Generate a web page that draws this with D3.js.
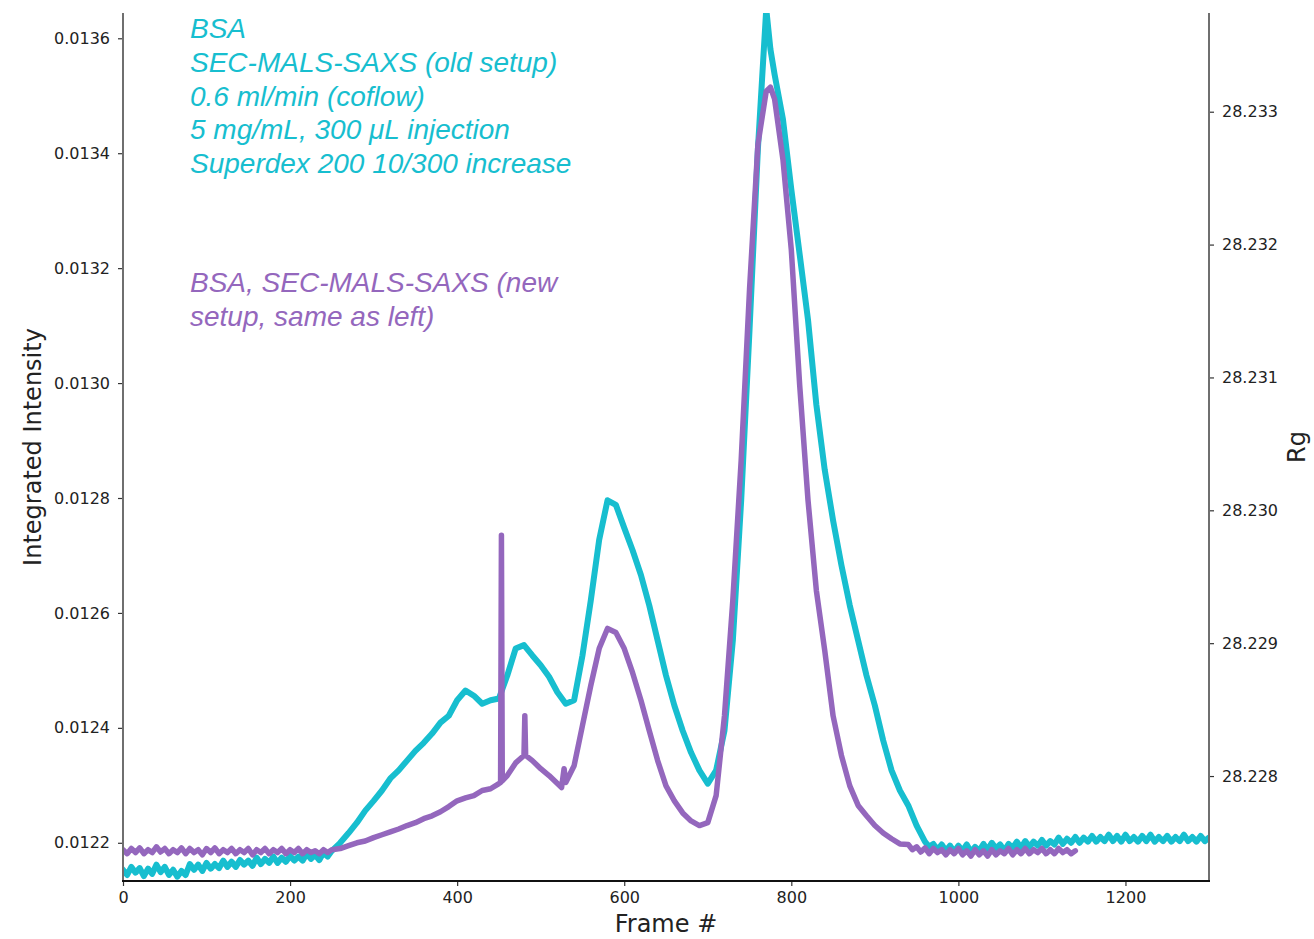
<!DOCTYPE html>
<html>
<head>
<meta charset="utf-8">
<script src="https://cdn.jsdelivr.net/npm/d3@7"></script>
<style>
  html, body { margin: 0; padding: 0; background: #fff; }
  svg { display: block; }
  .tick text { font-family: "DejaVu Sans", sans-serif; font-size: 16px; fill: #222; }
  .axlabel { font-family: "DejaVu Sans", sans-serif; font-size: 24px; fill: #222; }
  .note { font-family: "Liberation Sans", Arial, sans-serif; font-style: italic; font-size: 28px; }
</style>
</head>
<body>
<svg id="chart" width="1314" height="939"></svg>
<script>
// ---------------- DATA ----------------
// Old setup (cyan) — frame numbers and integrated intensity
const oldFrames = [
  0,5,10,15,20,25,30,35,40,45,50,55,60,65,70,75,80,85,90,95,100,105,110,115,120,125,130,135,140,145,150,155,160,165,170,175,180,185,190,195,200,205,210,215,220,225,230,235,240,245,250,
  260,270,280,290,300,310,320,330,340,350,360,370,380,390,400,410,420,430,440,450,460,470,480,490,500,510,520,530,540,550,560,570,580,590,600,610,620,630,640,650,660,670,680,690,700,710,720,730,740,750,760,765,770,775,780,790,800,810,820,830,840,850,860,870,880,890,900,910,920,930,940,950,
  960,965,970,975,980,985,990,995,1000,1005,1010,1015,1020,1025,1030,1035,1040,1045,1050,1055,1060,1065,1070,1075,1080,1085,1090,1095,1100,1105,1110,1115,1120,1125,1130,1135,1140,1145,1150,1155,1160,1165,1170,1175,1180,1185,1190,1195,1200,1205,1210,1215,1220,1225,1230,1235,1240,1245,1250,1255,1260,1265,1270,1275,1280,1285,1290,1295,1300];
const oldIntensity = [
  0.012153,0.012144,0.012158,0.012148,0.012156,0.012142,0.012155,0.012146,0.012162,0.012149,0.012158,0.012144,0.012153,0.012141,0.012151,0.012144,0.012163,0.012153,0.012162,0.012151,0.012165,0.012155,0.012163,0.012156,0.012169,0.012158,0.012167,0.012158,0.012170,0.012162,0.012169,0.012160,0.012174,0.012163,0.012172,0.012165,0.012176,0.012165,0.012174,0.012167,0.012177,0.012169,0.012176,0.012169,0.012181,0.012172,0.012179,0.012170,0.012183,0.012176,0.012186,
  0.012200,0.012217,0.012235,0.012256,0.012273,0.012291,0.012312,0.012326,0.012343,0.012360,0.012374,0.012390,0.012409,0.012421,0.012448,0.012465,0.012456,0.012442,0.012448,0.012451,0.012491,0.012538,0.012544,0.012526,0.012509,0.012489,0.012462,0.012442,0.012448,0.012526,0.012622,0.012727,0.012796,0.012788,0.012748,0.012709,0.012666,0.012613,0.012552,0.012491,0.012439,0.012395,0.012357,0.012326,0.012303,0.012326,0.012395,0.012552,0.012796,0.013093,0.013407,0.013529,0.013651,0.013581,0.013537,0.013459,0.013337,0.013224,0.013110,0.012962,0.012849,0.012761,0.012683,0.012613,0.012552,0.012491,0.012439,0.012378,0.012326,0.012291,0.012265,0.012230,
  0.012202,0.012193,0.012198,0.012188,0.012197,0.012186,0.012195,0.012184,0.012195,0.012186,0.012197,0.012184,0.012193,0.012186,0.012198,0.012188,0.012200,0.012190,0.012197,0.012186,0.012198,0.012191,0.012202,0.012191,0.012203,0.012193,0.012202,0.012195,0.012205,0.012195,0.012203,0.012197,0.012209,0.012198,0.012207,0.012200,0.012210,0.012200,0.012209,0.012202,0.012212,0.012202,0.012210,0.012203,0.012214,0.012203,0.012212,0.012202,0.012214,0.012203,0.012210,0.012202,0.012212,0.012203,0.012214,0.012202,0.012210,0.012203,0.012212,0.012202,0.012210,0.012203,0.012214,0.012203,0.012210,0.012202,0.012212,0.012203,0.012209];

// New setup (purple)
const newFrames = [
  0,5,10,15,20,25,30,35,40,45,50,55,60,65,70,75,80,85,90,95,100,105,110,115,120,125,130,135,140,145,150,155,160,165,170,175,180,185,190,195,200,205,210,215,220,225,230,235,240,245,250,
  260,270,280,290,300,310,320,330,340,350,360,370,380,390,400,410,420,430,440,450,452,453,454,460,470,480,481,482,490,500,510,520,525,528,530,540,550,560,570,580,590,600,610,620,630,640,650,660,670,680,690,700,710,720,730,740,750,760,770,775,780,790,800,810,820,830,840,850,860,870,880,890,900,910,920,930,
  940,945,950,955,960,965,970,975,980,985,990,995,1000,1005,1010,1015,1020,1025,1030,1035,1040,1045,1050,1055,1060,1065,1070,1075,1080,1085,1090,1095,1100,1105,1110,1115,1120,1125,1130,1135,1140];
const newIntensity = [
  0.012188,0.012181,0.012190,0.012183,0.012191,0.012181,0.012188,0.012183,0.012193,0.012184,0.012190,0.012181,0.012188,0.012183,0.012191,0.012181,0.012190,0.012183,0.012188,0.012179,0.012190,0.012183,0.012191,0.012181,0.012188,0.012183,0.012190,0.012181,0.012188,0.012183,0.012190,0.012179,0.012188,0.012183,0.012190,0.012181,0.012188,0.012183,0.012190,0.012181,0.012188,0.012183,0.012190,0.012181,0.012188,0.012183,0.012186,0.012181,0.012188,0.012183,0.012188,
  0.012190,0.012195,0.012200,0.012203,0.012209,0.012214,0.012219,0.012224,0.012230,0.012235,0.012242,0.012247,0.012254,0.012263,0.012273,0.012278,0.012282,0.012291,0.012294,0.012303,0.012305,0.012735,0.012308,0.012317,0.012339,0.012352,0.012421,0.012352,0.012343,0.012329,0.012317,0.012303,0.012296,0.012329,0.012305,0.012334,0.012404,0.012474,0.012538,0.012573,0.012566,0.012538,0.012496,0.012448,0.012395,0.012343,0.012299,0.012273,0.012252,0.012238,0.012230,0.012235,0.012282,0.012421,0.012622,0.012866,0.013163,0.013415,0.013508,0.013515,0.013494,0.013389,0.013232,0.012997,0.012796,0.012639,0.012535,0.012421,0.012352,0.012299,0.012265,0.012247,0.012230,0.012217,0.012207,0.012198,
  0.012197,0.012188,0.012193,0.012184,0.012191,0.012181,0.012190,0.012183,0.012188,0.012179,0.012188,0.012181,0.012190,0.012179,0.012186,0.012177,0.012188,0.012179,0.012186,0.012177,0.012188,0.012179,0.012186,0.012181,0.012190,0.012179,0.012188,0.012181,0.012190,0.012181,0.012188,0.012183,0.012190,0.012181,0.012188,0.012181,0.012190,0.012183,0.012188,0.012181,0.012186];

const xTicks = [0,200,400,600,800,1000,1200];
const leftTicks = [0.0122,0.0124,0.0126,0.0128,0.0130,0.0132,0.0134,0.0136];
const rightTicks = [28.228,28.229,28.230,28.231,28.232,28.233];

const oldNote = ["BSA","SEC-MALS-SAXS (old setup)","0.6 ml/min (coflow)","5 mg/mL, 300 \u03bcL injection","Superdex 200 10/300 increase"];
const newNote = ["BSA, SEC-MALS-SAXS (new","setup, same as left)"];

// ---------------- LAYOUT ----------------
const svg = d3.select("#chart");
const L = 123, R = 1209, T = 13, B = 881;
const CYAN = "#17becf", PURPLE = "#9467bd";

const x = d3.scaleLinear().domain([0, 1300]).range([L, R]);
const y = d3.scaleLinear().domain([0.0121335, 0.013644]).range([B, T]);
const y2 = d3.scaleLinear().domain([28.22721, 28.233743]).range([B, T]);

svg.append("clipPath").attr("id", "clip")
  .append("rect").attr("x", L).attr("y", T).attr("width", R - L).attr("height", B - T);

const line = d3.line().x(d => x(d[0])).y(d => y(d[1]));

const g = svg.append("g").attr("clip-path", "url(#clip)");
g.append("path")
  .datum(oldFrames.map((f, i) => [f, oldIntensity[i]]))
  .attr("d", line).attr("fill", "none").attr("stroke", CYAN)
  .attr("stroke-width", 6).attr("stroke-linejoin", "round").attr("stroke-linecap", "round");
g.append("path")
  .datum(newFrames.map((f, i) => [f, newIntensity[i]]))
  .attr("d", line).attr("fill", "none").attr("stroke", PURPLE)
  .attr("stroke-width", 5.5).attr("stroke-linejoin", "round").attr("stroke-linecap", "round");

// axes
const xAxis = svg.append("g").attr("transform", `translate(0,${B})`)
  .call(d3.axisBottom(x).tickValues(xTicks).tickFormat(d3.format("d")).tickSize(5).tickPadding(6));
const yAxis = svg.append("g").attr("transform", `translate(${L},0)`)
  .call(d3.axisLeft(y).tickValues(leftTicks).tickFormat(d3.format(".4f")).tickSize(5).tickPadding(8));
const y2Axis = svg.append("g").attr("transform", `translate(${R},0)`)
  .call(d3.axisRight(y2).tickValues(rightTicks).tickFormat(d3.format(".3f")).tickSize(5).tickPadding(8));

[xAxis, yAxis, y2Axis].forEach(a => {
  a.select(".domain").remove();
  a.selectAll(".tick line").attr("stroke", "#333").attr("stroke-width", 1.2);
});

// spines
svg.append("line").attr("x1", L).attr("x2", L).attr("y1", T).attr("y2", B)
  .attr("stroke", "#6f6f6f").attr("stroke-width", 2);
svg.append("line").attr("x1", R).attr("x2", R).attr("y1", T).attr("y2", B)
  .attr("stroke", "#6f6f6f").attr("stroke-width", 2);
svg.append("line").attr("x1", L - 1).attr("x2", R + 1).attr("y1", B).attr("y2", B)
  .attr("stroke", "#111").attr("stroke-width", 2);

// axis labels
svg.append("text").attr("class", "axlabel")
  .attr("x", (L + R) / 2).attr("y", 932).attr("text-anchor", "middle").text("Frame #");
svg.append("text").attr("class", "axlabel")
  .attr("transform", `translate(41,${(T + B) / 2}) rotate(-90)`).attr("text-anchor", "middle").text("Integrated Intensity");
svg.append("text").attr("class", "axlabel")
  .attr("transform", `translate(1305,${(T + B) / 2}) rotate(-90)`).attr("text-anchor", "middle").text("Rg");

// annotations
svg.append("g").selectAll("text").data(oldNote).join("text")
  .attr("class", "note").attr("fill", CYAN)
  .attr("x", 190).attr("y", (d, i) => 38 + i * 33.8).text(d => d);
svg.append("g").selectAll("text").data(newNote).join("text")
  .attr("class", "note").attr("fill", PURPLE)
  .attr("x", 190).attr("y", (d, i) => 292 + i * 33.5).text(d => d);
</script>
</body>
</html>
